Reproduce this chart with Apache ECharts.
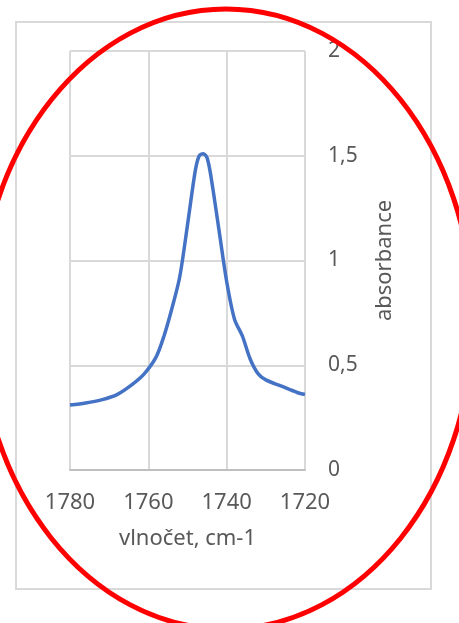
<!DOCTYPE html>
<html>
<head>
<meta charset="utf-8">
<script src="https://cdn.jsdelivr.net/npm/echarts@6/dist/echarts.min.js"></script>
<style>
  html, body { margin: 0; padding: 0; background: #fff; }
  #chart { width: 459px; height: 623px; }
</style>
</head>
<body>
<div id="chart"></div>
<script>
// vlnočet (cm-1) a absorbance
const wavenumbers = [1780, 1776, 1772, 1768, 1764, 1761, 1758, 1756, 1754, 1752, 1750, 1748, 1747, 1746, 1745, 1744, 1742, 1740, 1738, 1736, 1734, 1732, 1730, 1726, 1722, 1720];
const absorbance  = [0.31, 0.32, 0.335, 0.36, 0.41, 0.46, 0.54, 0.64, 0.77, 0.92, 1.17, 1.43, 1.50, 1.51, 1.49, 1.40, 1.15, 0.90, 0.72, 0.64, 0.53, 0.46, 0.43, 0.40, 0.37, 0.36];
const xTicks = [1720, 1740, 1760, 1780];
const yTicks = [0, 0.5, 1, 1.5, 2];

const textColor = '#595959';
const gridColor = '#d9d9d9';
const font = 'Noto Sans';

const chart = echarts.init(document.getElementById('chart'));

chart.setOption({
  animation: false,
  grid: { left: 70, right: 154, top: 51, bottom: 153 },
  xAxis: {
    type: 'value',
    inverse: true,
    min: xTicks[0],
    max: xTicks[xTicks.length - 1],
    interval: 20,
    name: 'vlnočet, cm-1',
    nameLocation: 'middle',
    nameGap: 58,
    nameTextStyle: { color: textColor, fontSize: 22, fontFamily: font },
    axisLine: { lineStyle: { color: '#bfbfbf', width: 2 } },
    axisTick: { show: false },
    axisLabel: {
      color: textColor, fontSize: 22, fontFamily: font, margin: 22,
      formatter: v => String(v)
    },
    splitLine: { show: true, lineStyle: { color: gridColor, width: 2 } }
  },
  yAxis: {
    type: 'value',
    position: 'right',
    min: yTicks[0],
    max: yTicks[yTicks.length - 1],
    interval: 0.5,
    name: 'absorbance',
    nameLocation: 'middle',
    nameRotate: 90,
    nameGap: 69,
    nameTextStyle: { color: textColor, fontSize: 22, fontFamily: font },
    axisLine: { show: false },
    axisTick: { show: false },
    axisLabel: {
      color: textColor, fontSize: 21, fontFamily: font, margin: 23,
      formatter: v => String(v).replace('.', ',')
    },
    splitLine: { show: true, lineStyle: { color: gridColor, width: 2 } }
  },
  series: [{
    type: 'line',
    data: wavenumbers.map((w, i) => [w, absorbance[i]]),
    smooth: 0.3,
    symbol: 'none',
    lineStyle: { color: '#4472c4', width: 3.5 }
  }],
  graphic: [
    {
      type: 'rect',
      shape: { x: 16, y: 22, width: 415, height: 567 },
      style: { fill: 'none', stroke: gridColor, lineWidth: 2 },
      z: 0
    },
    {
      type: 'ellipse',
      shape: { cx: 226, cy: 319, rx: 247, ry: 310 },
      style: { fill: 'none', stroke: '#ff0000', lineWidth: 5 },
      z: 100
    }
  ]
});
</script>
</body>
</html>
